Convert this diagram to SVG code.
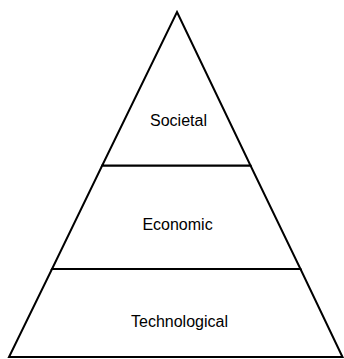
<svg xmlns="http://www.w3.org/2000/svg" width="344" height="359" viewBox="0 0 344 359">
<style>
.layer{fill:#fff;stroke:#000;stroke-width:2;stroke-linejoin:miter;stroke-miterlimit:20}
.lbl{font-family:"Liberation Sans",Arial,sans-serif;font-size:16px;fill:#000;text-anchor:middle}
</style>
<rect width="344" height="359" fill="#fff"/>
<g id="technological">
<polygon class="layer" points="52,269 300.5,269 342.5,357 9,357"/>
<text class="lbl" x="179.5" y="327">Technological</text>
</g>
<g id="economic">
<polygon class="layer" points="102.2,165.5 250.5,165.5 300.5,269 52,269"/>
<text class="lbl" x="177.5" y="229.5">Economic</text>
</g>
<g id="societal">
<polygon class="layer" points="177,12 250.5,165.5 102.2,165.5"/>
<text class="lbl" x="178.5" y="126">Societal</text>
</g>
<g id="connectors"/>
</svg>
